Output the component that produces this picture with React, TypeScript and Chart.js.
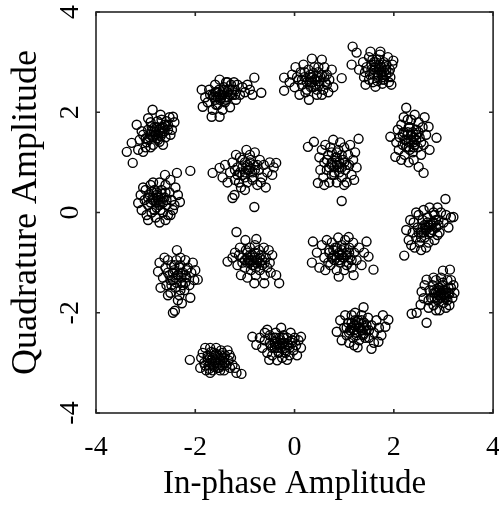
import React, { useEffect, useRef } from "react";
import { Chart, registerables } from "chart.js";

Chart.register(...registerables);

const xTicks = [-4, -2, 0, 2, 4];
const yTicks = [-4, -2, 0, 2, 4];
const xTitle = "In-phase Amplitude";
const yTitle = "Quadrature Amplitude";

type P = [number, number];

const cluster1: P[] = [
  [-3.38, 1.21], [-3.26, 0.99], [-3.28, 1.39], [-3.15, 1.25], [-3.05, 1.21], [-3.12, 1.45], [-3.18, 1.75], [-3.05, 1.55],
  [-2.98, 1.4], [-2.95, 1.65], [-2.9, 1.8], [-2.86, 2.05], [-2.8, 1.55], [-2.78, 1.7], [-2.75, 1.45], [-2.7, 1.6],
  [-2.72, 1.41], [-2.68, 1.85], [-2.62, 1.75], [-2.6, 1.5], [-2.55, 1.65], [-2.52, 1.9], [-2.47, 1.65], [-2.45, 1.91],
  [-2.42, 1.8], [-2.5, 1.55], [-2.85, 1.35], [-2.92, 1.5], [-3.0, 1.3], [-2.83, 1.62], [-2.65, 1.35], [-2.58, 1.82],
  [-2.7, 1.95], [-2.95, 1.88], [-3.08, 1.62], [-2.88, 1.72], [-2.76, 1.82], [-2.62, 1.62], [-2.68, 1.7], [-2.9, 1.3],
  [-2.8, 1.6], [-2.75, 1.55], [-2.72, 1.65], [-2.85, 1.5], [-2.65, 1.7], [-2.9, 1.55], [-2.6, 1.72], [-2.78, 1.48],
  [-2.7, 1.52], [-2.82, 1.7], [-2.95, 1.45], [-2.55, 1.75], [-2.88, 1.62], [-2.66, 1.58], [-3.0, 1.48],
];
const cluster2: P[] = [
  [-1.87, 2.45], [-1.85, 2.11], [-1.8, 2.3], [-1.75, 2.2], [-1.72, 2.45], [-1.67, 1.91], [-1.65, 2.05], [-1.62, 2.3],
  [-1.6, 2.55], [-1.58, 2.15], [-1.55, 2.4], [-1.51, 1.91], [-1.51, 2.65], [-1.5, 2.25], [-1.45, 2.05], [-1.45, 2.35],
  [-1.42, 2.5], [-1.4, 2.2], [-1.38, 2.6], [-1.35, 2.3], [-1.32, 2.45], [-1.3, 2.1], [-1.28, 2.55], [-1.25, 2.35],
  [-1.2, 2.45], [-1.18, 2.25], [-1.15, 2.55], [-1.1, 2.35], [-1.05, 2.5], [-1.0, 2.4], [-0.95, 2.55], [-0.9, 2.45],
  [-0.81, 2.69], [-0.67, 2.39], [-0.85, 2.35], [-1.7, 2.35], [-1.55, 2.15], [-1.35, 2.6], [-1.22, 2.6], [-1.6, 2.4],
  [-1.5, 2.35], [-1.45, 2.4], [-1.4, 2.3], [-1.55, 2.3], [-1.35, 2.4], [-1.6, 2.25], [-1.3, 2.35], [-1.48, 2.28],
  [-1.42, 2.45], [-1.65, 2.35], [-1.25, 2.45], [-1.52, 2.45], [-1.38, 2.25], [-1.58, 2.4], [-1.2, 2.35],
];
const cluster3: P[] = [
  [-0.21, 2.43], [-0.21, 2.69], [-0.1, 2.6], [-0.05, 2.75], [0.0, 2.5], [0.02, 2.9], [0.08, 2.65], [0.1, 2.35],
  [0.12, 2.8], [0.15, 2.55], [0.18, 2.95], [0.2, 2.7], [0.25, 2.45], [0.28, 2.85], [0.29, 2.25], [0.3, 2.6],
  [0.32, 2.75], [0.35, 3.07], [0.38, 2.5], [0.4, 2.9], [0.42, 2.65], [0.45, 2.35], [0.48, 2.8], [0.5, 2.55],
  [0.52, 2.7], [0.55, 3.05], [0.58, 2.45], [0.6, 2.9], [0.62, 2.6], [0.65, 2.75], [0.68, 2.4], [0.7, 2.65],
  [0.75, 2.85], [0.78, 2.5], [0.95, 2.68], [0.22, 2.4], [0.45, 2.45], [0.05, 2.7], [0.35, 2.7], [0.55, 2.35],
  [0.4, 2.65], [0.35, 2.6], [0.45, 2.7], [0.3, 2.7], [0.5, 2.62], [0.25, 2.6], [0.55, 2.75], [0.38, 2.78],
  [0.42, 2.55], [0.2, 2.8], [0.6, 2.7], [0.33, 2.5], [0.48, 2.9], [0.15, 2.65], [0.65, 2.55],
];
const cluster4: P[] = [
  [1.17, 3.31], [1.25, 3.19], [1.15, 2.95], [1.3, 2.85], [1.38, 3.0], [1.4, 2.7], [1.43, 2.55], [1.45, 2.9],
  [1.5, 3.1], [1.53, 3.21], [1.52, 2.75], [1.55, 2.95], [1.58, 2.6], [1.6, 2.85], [1.63, 2.51], [1.65, 3.05],
  [1.68, 2.7], [1.7, 2.9], [1.72, 3.15], [1.73, 3.21], [1.75, 2.8], [1.78, 2.65], [1.8, 3.0], [1.82, 2.9],
  [1.85, 2.75], [1.88, 3.1], [1.9, 2.6], [1.92, 2.85], [1.95, 2.55], [1.97, 2.95], [1.99, 3.03], [1.5, 2.65],
  [1.62, 2.95], [1.7, 3.05], [1.85, 2.85], [1.42, 2.8], [1.77, 2.57], [1.57, 3.05], [1.67, 2.62], [1.93, 2.7],
  [1.7, 2.85], [1.65, 2.8], [1.75, 2.9], [1.6, 2.75], [1.8, 2.8], [1.72, 2.95], [1.68, 2.75], [1.78, 2.7],
  [1.62, 2.9], [1.85, 2.95], [1.55, 2.85], [1.75, 2.75], [1.9, 2.8], [1.6, 3.0], [1.8, 2.65],
];
const cluster5: P[] = [
  [2.25, 2.09], [1.93, 1.51], [2.03, 1.11], [2.05, 1.4], [2.08, 1.65], [2.1, 1.25], [2.12, 1.5], [2.15, 1.75],
  [2.18, 1.35], [2.2, 1.6], [2.22, 1.15], [2.25, 1.45], [2.28, 1.85], [2.3, 1.3], [2.32, 1.7], [2.35, 1.55],
  [2.38, 1.2], [2.4, 1.4], [2.42, 1.95], [2.45, 1.65], [2.48, 1.3], [2.5, 1.8], [2.5, 0.91], [2.52, 1.5],
  [2.55, 1.15], [2.58, 1.7], [2.6, 0.79], [2.6, 1.35], [2.65, 1.55], [2.7, 1.71], [2.72, 1.25], [2.86, 1.49],
  [2.3, 1.0], [2.4, 1.05], [2.2, 1.9], [2.35, 1.85], [2.15, 1.05], [2.62, 1.9], [2.45, 1.45], [2.28, 1.6],
  [2.35, 1.45], [2.3, 1.4], [2.4, 1.5], [2.28, 1.55], [2.42, 1.35], [2.32, 1.25], [2.38, 1.6], [2.25, 1.3],
  [2.45, 1.55], [2.22, 1.45], [2.5, 1.6], [2.3, 1.7], [2.4, 1.3], [2.18, 1.55], [2.55, 1.4],
];
const cluster6: P[] = [
  [0.27, 1.31], [0.39, 1.41], [1.29, 1.47], [0.47, 0.59], [0.95, 0.23], [0.5, 1.1], [0.52, 0.85], [0.55, 1.25],
  [0.58, 0.7], [0.6, 1.0], [0.62, 1.35], [0.65, 0.85], [0.68, 1.15], [0.7, 0.6], [0.72, 1.3], [0.75, 0.95],
  [0.78, 1.45], [0.8, 0.75], [0.82, 1.1], [0.85, 0.6], [0.88, 1.25], [0.9, 0.9], [0.92, 1.4], [0.95, 0.7],
  [0.98, 1.05], [1.0, 1.3], [1.02, 0.85], [1.05, 0.6], [1.08, 1.15], [1.1, 0.95], [1.12, 1.35], [1.15, 0.75],
  [1.18, 1.05], [1.2, 0.65], [1.22, 1.2], [1.25, 0.9], [0.6, 0.55], [1.0, 0.55], [0.75, 1.2], [0.85, 1.0],
  [0.85, 0.95], [0.8, 0.9], [0.9, 1.0], [0.75, 1.0], [0.95, 0.9], [0.85, 1.1], [0.8, 0.8], [0.7, 0.9],
  [1.0, 1.0], [0.9, 0.8], [0.65, 1.05], [1.05, 0.95], [0.85, 1.2], [0.75, 0.75], [0.95, 1.15],
];
const cluster7: P[] = [
  [-2.1, 0.83], [-1.65, 0.79], [-1.51, 0.89], [-1.45, 0.7], [-1.4, 0.95], [-1.35, 0.6], [-1.3, 0.8], [-1.25, 0.29],
  [-1.21, 0.35], [-1.25, 1.0], [-1.2, 0.65], [-1.15, 0.9], [-1.1, 1.1], [-1.08, 0.5], [-1.05, 0.75], [-1.0, 1.0],
  [-0.97, 1.25], [-0.95, 0.6], [-0.92, 0.85], [-0.9, 1.15], [-0.85, 0.7], [-0.82, 0.95], [-0.81, 0.11], [-0.8, 1.2],
  [-0.75, 0.55], [-0.72, 0.85], [-0.7, 1.05], [-0.65, 0.7], [-0.62, 0.95], [-0.58, 0.5], [-0.55, 0.8], [-0.5, 1.0],
  [-0.45, 0.75], [-0.42, 0.9], [-0.37, 0.99], [-1.0, 0.45], [-1.12, 0.6], [-0.88, 1.05], [-0.68, 0.6], [-1.18, 1.15],
  [-0.95, 0.85], [-1.0, 0.8], [-0.9, 0.9], [-1.05, 0.9], [-0.85, 0.8], [-0.95, 0.95], [-1.1, 0.8], [-0.8, 0.85],
  [-1.0, 0.7], [-0.9, 1.0], [-1.15, 0.75], [-0.75, 0.95], [-1.05, 1.05], [-0.85, 0.65], [-1.2, 0.85],
];
const cluster8: P[] = [
  [-3.15, 0.19], [-3.1, 0.35], [-3.08, 0.05], [-3.02, 0.25], [-3.0, 0.45], [-2.98, -0.05], [-2.95, 0.15], [-2.92, 0.35],
  [-2.9, 0.55], [-2.88, 0.0], [-2.85, 0.25], [-2.82, 0.45], [-2.8, -0.1], [-2.78, 0.1], [-2.75, 0.3], [-2.72, -0.2],
  [-2.72, 0.6], [-2.7, 0.2], [-2.68, 0.45], [-2.65, 0.0], [-2.62, 0.3], [-2.61, 0.75], [-2.6, 0.55], [-2.58, 0.15],
  [-2.55, -0.05], [-2.52, 0.4], [-2.5, 0.65], [-2.48, 0.25], [-2.45, 0.05], [-2.4, 0.5], [-2.37, 0.79], [-2.35, 0.35],
  [-2.31, 0.21], [-2.6, -0.15], [-2.85, 0.6], [-3.05, 0.5], [-2.95, -0.15], [-2.5, -0.05], [-2.42, 0.15], [-2.78, 0.4],
  [-2.75, 0.25], [-2.8, 0.2], [-2.7, 0.3], [-2.85, 0.3], [-2.65, 0.2], [-2.78, 0.35], [-2.72, 0.15], [-2.9, 0.2],
  [-2.6, 0.4], [-2.82, 0.05], [-2.68, 0.38], [-2.95, 0.3], [-2.58, 0.25], [-2.88, 0.42], [-2.7, 0.05],
];
const cluster9: P[] = [
  [3.04, 0.27], [2.21, -0.86], [2.25, -0.35], [2.3, -0.55], [2.33, -0.15], [2.35, -0.65], [2.38, -0.4], [2.4, -0.2],
  [2.42, -0.7], [2.45, -0.5], [2.48, -0.3], [2.5, -0.05], [2.52, -0.6], [2.55, -0.75], [2.55, -0.4], [2.58, -0.15],
  [2.6, 0.05], [2.62, -0.5], [2.65, -0.3], [2.68, -0.1], [2.7, -0.6], [2.72, 0.1], [2.75, -0.4], [2.78, -0.2],
  [2.8, 0.0], [2.82, -0.55], [2.85, -0.3], [2.88, 0.1], [2.9, -0.15], [2.92, -0.4], [2.95, 0.0], [3.0, -0.2],
  [3.05, -0.05], [3.1, -0.3], [3.15, -0.1], [3.2, -0.09], [2.45, 0.0], [2.65, -0.7], [2.88, -0.45], [2.7, -0.25],
  [2.7, -0.3], [2.65, -0.35], [2.75, -0.25], [2.6, -0.4], [2.8, -0.2], [2.68, -0.2], [2.72, -0.4], [2.58, -0.3],
  [2.85, -0.15], [2.55, -0.5], [2.78, -0.35], [2.62, -0.25], [2.9, -0.25], [2.5, -0.4], [2.82, -0.05],
];
const cluster10: P[] = [
  [0.37, -0.58], [0.35, -1.0], [0.45, -0.8], [0.5, -1.1], [0.55, -0.65], [0.6, -0.9], [0.62, -1.15], [0.65, -0.55],
  [0.7, -0.8], [0.72, -1.05], [0.75, -0.6], [0.8, -0.95], [0.82, -0.7], [0.85, -1.15], [0.88, -0.5], [0.89, -1.28],
  [0.9, -0.85], [0.92, -1.0], [0.95, -0.65], [0.98, -0.9], [1.0, -1.15], [1.02, -0.55], [1.05, -0.8], [1.08, -1.0],
  [1.09, -0.49], [1.1, -0.7], [1.12, -0.9], [1.15, -1.1], [1.18, -0.6], [1.19, -1.25], [1.2, -0.8], [1.25, -0.95],
  [1.3, -0.7], [1.35, -1.05], [1.45, -0.58], [1.49, -0.88], [1.59, -1.14], [1.4, -0.8], [0.68, -1.0], [0.78, -0.75],
  [0.95, -0.85], [0.9, -0.8], [1.0, -0.9], [0.85, -0.9], [1.05, -0.85], [0.95, -0.75], [0.9, -0.95], [1.1, -0.8],
  [0.8, -0.85], [1.0, -0.7], [0.75, -0.9], [1.15, -0.95], [0.85, -0.7], [1.05, -1.05], [0.7, -0.75],
];
const cluster11: P[] = [
  [-1.17, -0.39], [-0.99, -0.55], [-0.77, -0.53], [-1.35, -0.98], [-0.31, -1.41], [-0.37, -1.25], [-0.81, -1.41], [-0.61, -1.41],
  [-1.2, -0.8], [-1.15, -1.05], [-1.1, -0.7], [-1.08, -1.25], [-1.05, -0.9], [-1.0, -1.1], [-0.98, -0.75], [-0.95, -1.3],
  [-0.92, -0.95], [-0.9, -0.7], [-0.88, -1.15], [-0.85, -0.85], [-0.82, -1.05], [-0.8, -0.65], [-0.78, -1.25], [-0.75, -0.95],
  [-0.72, -0.75], [-0.7, -1.15], [-0.68, -0.85], [-0.65, -1.05], [-0.62, -0.7], [-0.6, -1.25], [-0.58, -0.9], [-0.55, -1.1],
  [-0.52, -0.75], [-0.5, -1.0], [-0.48, -1.2], [-0.45, -0.85], [-1.25, -0.9], [-1.12, -0.85], [-0.95, -1.0], [-0.7, -1.0],
  [-0.85, -0.95], [-0.8, -0.9], [-0.9, -1.0], [-0.75, -1.0], [-0.95, -0.9], [-0.85, -1.05], [-0.8, -0.8], [-1.0, -0.95],
  [-0.7, -0.9], [-0.9, -0.85], [-0.65, -0.95], [-1.05, -1.0], [-0.78, -1.1], [-0.95, -0.8], [-0.6, -1.0],
];
const cluster12: P[] = [
  [-2.37, -0.75], [-2.45, -2.0], [-2.41, -1.96], [-2.27, -1.81], [-2.72, -1.0], [-2.75, -1.18], [-2.7, -1.5], [-1.95, -1.34],
  [-2.05, -1.0], [-2.65, -1.3], [-2.6, -1.1], [-2.58, -1.45], [-2.55, -0.95], [-2.52, -1.25], [-2.5, -1.6], [-2.48, -1.05],
  [-2.45, -1.35], [-2.42, -1.15], [-2.4, -1.5], [-2.38, -0.95], [-2.35, -1.25], [-2.32, -1.65], [-2.3, -1.05], [-2.28, -1.4],
  [-2.25, -1.2], [-2.22, -1.55], [-2.2, -0.95], [-2.18, -1.3], [-2.15, -1.1], [-2.12, -1.45], [-2.1, -1.7], [-2.08, -1.2],
  [-2.02, -1.35], [-2.0, -1.15], [-2.35, -1.75], [-2.55, -1.65], [-2.62, -0.9], [-2.3, -0.9], [-2.45, -1.2], [-2.2, -1.4],
  [-2.35, -1.25], [-2.4, -1.3], [-2.3, -1.2], [-2.45, -1.2], [-2.28, -1.3], [-2.38, -1.4], [-2.32, -1.1], [-2.5, -1.35],
  [-2.2, -1.25], [-2.42, -1.05], [-2.25, -1.45], [-2.55, -1.2], [-2.18, -1.15], [-2.48, -1.45], [-2.3, -1.55],
];
const cluster13: P[] = [
  [2.36, -2.02], [2.46, -2.0], [2.66, -2.2], [2.99, -1.16], [3.13, -1.14], [2.56, -1.58], [2.6, -1.71], [2.66, -1.34],
  [2.54, -1.84], [2.62, -1.45], [2.7, -1.9], [2.72, -1.55], [2.75, -1.7], [2.78, -1.45], [2.8, -1.85], [2.82, -1.6],
  [2.85, -1.35], [2.88, -1.75], [2.9, -1.5], [2.92, -1.95], [2.95, -1.65], [2.98, -1.4], [3.0, -1.8], [3.02, -1.55],
  [3.05, -1.7], [3.08, -1.35], [3.1, -1.6], [3.12, -1.85], [3.15, -1.5], [3.18, -1.7], [3.2, -1.45], [3.22, -1.6],
  [2.85, -1.95], [2.95, -1.3], [3.05, -1.9], [2.7, -1.75], [2.8, -1.3], [3.15, -1.35], [2.92, -1.55], [3.0, -1.65],
  [2.95, -1.6], [2.9, -1.65], [3.0, -1.55], [2.85, -1.6], [3.05, -1.6], [2.95, -1.7], [2.92, -1.5], [3.02, -1.68],
  [2.88, -1.72], [3.1, -1.5], [2.8, -1.55], [3.08, -1.75], [2.98, -1.45], [2.82, -1.7], [3.12, -1.62],
];
const cluster14: P[] = [
  [1.39, -1.89], [1.89, -2.14], [1.83, -2.28], [0.85, -2.38], [1.55, -2.72], [1.27, -2.69], [1.69, -2.58], [0.92, -2.15],
  [0.95, -2.55], [1.0, -2.3], [1.02, -2.05], [1.05, -2.45], [1.08, -2.2], [1.1, -2.6], [1.12, -2.35], [1.15, -2.05],
  [1.18, -2.5], [1.2, -2.25], [1.22, -2.0], [1.25, -2.4], [1.28, -2.15], [1.3, -2.55], [1.32, -2.3], [1.35, -2.05],
  [1.38, -2.45], [1.4, -2.2], [1.45, -2.35], [1.48, -2.1], [1.5, -2.5], [1.55, -2.25], [1.6, -2.4], [1.65, -2.15],
  [1.7, -2.3], [1.75, -2.45], [1.78, -2.05], [1.6, -2.6], [1.2, -2.65], [1.05, -2.3], [1.35, -2.35], [1.15, -2.2],
  [1.3, -2.3], [1.25, -2.25], [1.35, -2.35], [1.2, -2.35], [1.4, -2.3], [1.3, -2.2], [1.25, -2.45], [1.45, -2.25],
  [1.15, -2.3], [1.38, -2.42], [1.22, -2.15], [1.5, -2.35], [1.1, -2.4], [1.35, -2.15], [1.42, -2.5],
];
const cluster15: P[] = [
  [-0.85, -2.48], [-0.77, -2.64], [-0.55, -2.34], [-0.27, -2.3], [0.13, -2.48], [0.13, -2.7], [-0.51, -2.94], [-0.15, -2.94],
  [-0.7, -2.5], [-0.65, -2.7], [-0.6, -2.55], [-0.55, -2.8], [-0.5, -2.45], [-0.48, -2.65], [-0.45, -2.85], [-0.42, -2.5],
  [-0.4, -2.7], [-0.38, -2.4], [-0.35, -2.6], [-0.32, -2.8], [-0.3, -2.5], [-0.28, -2.7], [-0.25, -2.9], [-0.22, -2.45],
  [-0.2, -2.6], [-0.18, -2.75], [-0.15, -2.5], [-0.12, -2.65], [-0.1, -2.85], [-0.08, -2.4], [-0.05, -2.6], [-0.02, -2.75],
  [0.0, -2.5], [0.03, -2.65], [0.05, -2.85], [0.08, -2.55], [-0.35, -2.95], [-0.6, -2.4], [-0.25, -2.62], [-0.4, -2.58],
  [-0.3, -2.65], [-0.25, -2.6], [-0.35, -2.7], [-0.2, -2.7], [-0.4, -2.62], [-0.28, -2.55], [-0.32, -2.78], [-0.15, -2.62],
  [-0.45, -2.7], [-0.22, -2.5], [-0.38, -2.5], [-0.1, -2.7], [-0.5, -2.6], [-0.18, -2.8], [-0.05, -2.55],
];
const cluster16: P[] = [
  [-2.11, -2.94], [-1.17, -3.2], [-1.07, -3.22], [-1.25, -3.04], [-1.31, -2.84], [-1.85, -2.8], [-1.82, -3.0], [-1.8, -2.7],
  [-1.78, -3.15], [-1.75, -2.85], [-1.72, -3.05], [-1.7, -2.7], [-1.68, -2.95], [-1.65, -3.15], [-1.62, -2.8], [-1.6, -3.0],
  [-1.58, -2.7], [-1.55, -3.1], [-1.52, -2.9], [-1.5, -3.05], [-1.48, -2.75], [-1.45, -2.95], [-1.42, -3.15], [-1.4, -2.85],
  [-1.38, -3.05], [-1.35, -2.75], [-1.33, -2.95], [-1.3, -3.1], [-1.28, -2.9], [-1.9, -3.1], [-1.88, -2.9], [-1.75, -2.95],
  [-1.6, -2.85], [-1.5, -3.15], [-1.4, -3.0], [-1.65, -3.05], [-1.55, -2.85], [-1.7, -3.2], [-1.45, -2.8], [-1.2, -3.1],
  [-1.6, -2.95], [-1.65, -2.9], [-1.55, -3.0], [-1.7, -3.0], [-1.5, -2.95], [-1.62, -3.08], [-1.58, -2.82], [-1.75, -2.9],
  [-1.45, -3.05], [-1.68, -2.78], [-1.52, -3.1], [-1.8, -3.05], [-1.42, -2.9], [-1.72, -3.12], [-1.48, -2.85],
];

const clusters = [
  cluster1, cluster2, cluster3, cluster4, cluster5, cluster6, cluster7, cluster8,
  cluster9, cluster10, cluster11, cluster12, cluster13, cluster14, cluster15, cluster16,
];

const FONT_FAMILY = '"Liberation Serif", "Times New Roman", serif';

export default function App() {
  const ref = useRef<HTMLCanvasElement | null>(null);

  useEffect(() => {
    const canvas = ref.current;
    if (!canvas) return;
    const points = clusters.flat().map(([x, y]) => ({ x, y }));

    const axisPlugin = {
      id: "axisFrame",
      afterDraw(chart: any) {
        const ctx = chart.ctx as CanvasRenderingContext2D;
        const area = chart.chartArea;
        const xs = chart.scales.x;
        const ys = chart.scales.y;
        ctx.save();
        ctx.strokeStyle = "#262626";
        ctx.lineWidth = 1.6;
        ctx.strokeRect(area.left, area.top, area.right - area.left, area.bottom - area.top);
        const tl = 4;
        ctx.beginPath();
        xTicks.forEach((v) => {
          const px = xs.getPixelForValue(v);
          ctx.moveTo(px, area.bottom);
          ctx.lineTo(px, area.bottom - tl);
          ctx.moveTo(px, area.top);
          ctx.lineTo(px, area.top + tl);
        });
        yTicks.forEach((v) => {
          const py = ys.getPixelForValue(v);
          ctx.moveTo(area.left, py);
          ctx.lineTo(area.left + tl, py);
          ctx.moveTo(area.right, py);
          ctx.lineTo(area.right - tl, py);
        });
        ctx.stroke();

        ctx.fillStyle = "#000";
        ctx.font = `28px ${FONT_FAMILY}`;
        ctx.textAlign = "center";
        ctx.textBaseline = "alphabetic";
        xTicks.forEach((v) => {
          const px = xs.getPixelForValue(v);
          ctx.fillText(String(v), px, area.bottom + 42);
        });
        yTicks.forEach((v) => {
          const py = ys.getPixelForValue(v);
          ctx.save();
          ctx.translate(area.left - 18, py);
          ctx.rotate(-Math.PI / 2);
          ctx.fillText(String(v), 0, 0);
          ctx.restore();
        });

        ctx.font = `33px ${FONT_FAMILY}`;
        ctx.fillText(xTitle, (area.left + area.right) / 2, area.bottom + 80);
        ctx.save();
        ctx.font = `36px ${FONT_FAMILY}`;
        ctx.translate(area.left - 60, (area.top + area.bottom) / 2);
        ctx.rotate(-Math.PI / 2);
        ctx.fillText(yTitle, 0, 0);
        ctx.restore();
        ctx.restore();
      },
    };

    const chart = new Chart(canvas, {
      type: "scatter",
      data: {
        datasets: [
          {
            data: points,
            showLine: false,
            pointStyle: "circle",
            pointRadius: 4.5,
            pointHoverRadius: 4.5,
            pointBorderWidth: 1.4,
            borderColor: "#000",
            backgroundColor: "rgba(0,0,0,0)",
          },
        ],
      },
      options: {
        responsive: false,
        maintainAspectRatio: false,
        animation: false,
        events: [],
        layout: { padding: { left: 96, top: 12, right: 4, bottom: 96 } },
        plugins: { legend: { display: false }, tooltip: { enabled: false } },
        scales: {
          x: { type: "linear", display: false, min: -4, max: 4 },
          y: { type: "linear", display: false, min: -4, max: 4 },
        },
      },
      plugins: [axisPlugin],
    });
    return () => chart.destroy();
  }, []);

  return (
    <div style={{ position: "absolute", left: 0, top: 0, width: 499, height: 509, background: "#fff" }}>
      <canvas ref={ref} width={499} height={509} style={{ width: 499, height: 509, display: "block" }} />
    </div>
  );
}
